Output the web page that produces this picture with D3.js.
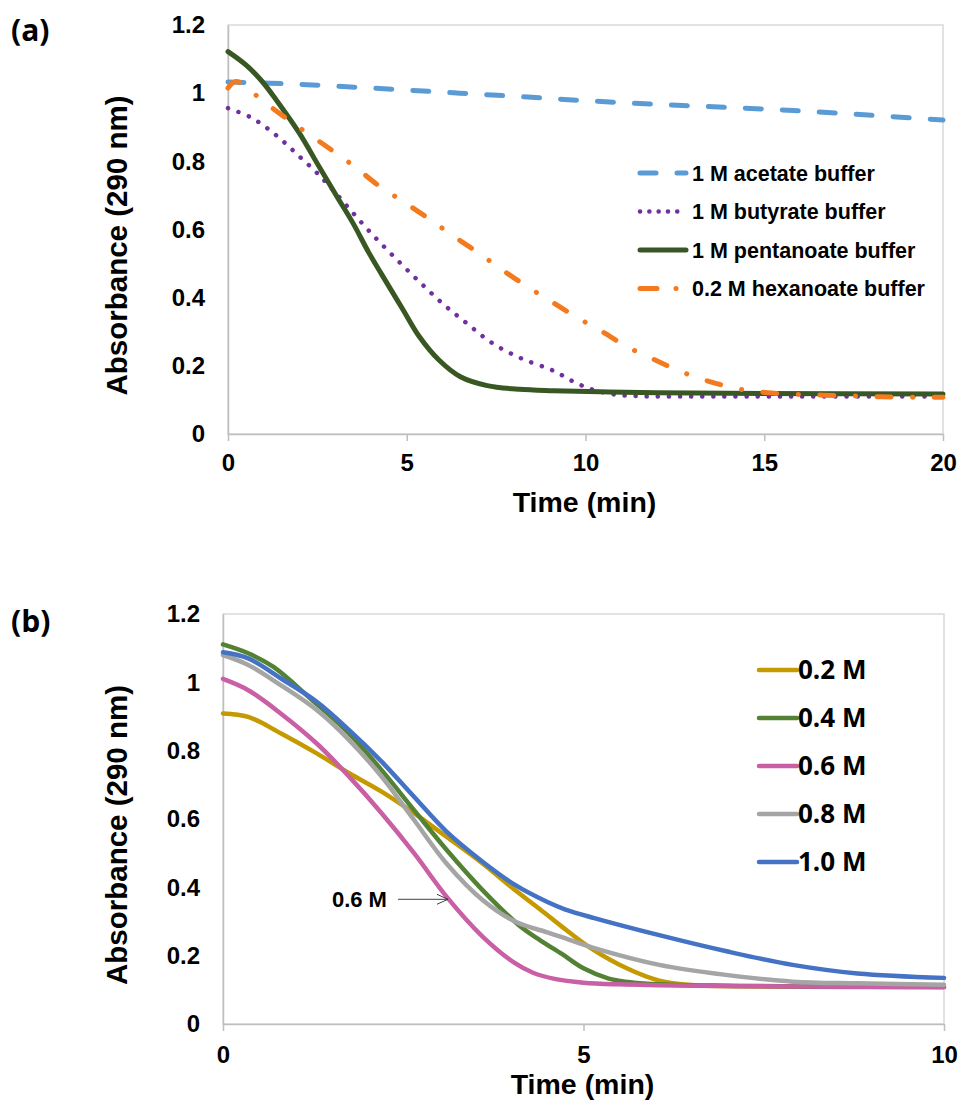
<!DOCTYPE html>
<meta charset="utf-8">
<style>
body { margin: 0; background: #fff; }
text { font-family: "Liberation Sans", Arial, sans-serif; font-weight: bold; fill: #000; }
.domain, .tick line { stroke: #bfbfbf; stroke-width: 1.5; }
.frame { fill: none; stroke: #d9d9d9; stroke-width: 1.5; }
.panel-tag, .legB text { font-family: "Open Sans", sans-serif; }
</style>
<body>
<script src="https://cdn.jsdelivr.net/npm/d3@7/dist/d3.min.js"></script>
<script>
// ---- data: [time (min), absorbance] ----
var acetate = [[0,1.033],[2,1.026],[4,1.015],[6,1.003],[8,0.991],[10,0.978],[12,0.967],[14,0.958],[16,0.948],[18,0.935],[20,0.921]];
var butyrate = [[0,0.956],[0.6,0.931],[1.1,0.897],[1.55,0.858],[2,0.814],[2.45,0.770],[2.85,0.726],[3.45,0.654],[4.05,0.584],[4.7,0.514],[5.35,0.447],[6,0.383],[6.7,0.323],[7.4,0.266],[8.2,0.222],[9.05,0.188],[9.35,0.172],[9.6,0.157],[9.9,0.142],[10.15,0.132],[10.8,0.116],[11.5,0.111],[13,0.110],[16,0.110],[20,0.110]];
var pentanoate = [[0,1.122],[0.5,1.083],[0.95,1.035],[1.35,0.98],[2,0.882],[2.55,0.784],[3.05,0.696],[3.5,0.618],[3.95,0.530],[4.45,0.442],[4.9,0.364],[5.35,0.286],[5.9,0.217],[6.5,0.168],[7.25,0.142],[8.15,0.131],[9.1,0.127],[10.4,0.124],[12,0.121],[15,0.119],[20,0.117]];
var hexanoate = [[0,1.015],[0.2,1.034],[0.45,1.025],[0.85,0.988],[1.5,0.936],[2.2,0.884],[2.9,0.833],[3.55,0.784],[4.2,0.730],[4.9,0.682],[5.6,0.633],[6.3,0.581],[7,0.532],[7.65,0.483],[8.35,0.434],[9.05,0.388],[9.75,0.343],[10.5,0.298],[11.2,0.254],[11.95,0.217],[12.7,0.182],[13.5,0.153],[14.3,0.132],[15.1,0.121],[16,0.116],[17,0.113],[18,0.110],[19,0.108],[20,0.108]];

var m02 = [[0,0.909],[0.35,0.899],[0.8,0.851],[1.3,0.792],[1.75,0.734],[2.2,0.680],[2.65,0.617],[3.1,0.548],[3.6,0.470],[4.05,0.392],[4.4,0.335],[4.7,0.285],[5.1,0.222],[5.6,0.163],[6.05,0.127],[6.5,0.114],[7.5,0.110],[10,0.108]];
var m04 = [[0,1.111],[0.35,1.085],[0.7,1.045],[1.2,0.955],[1.75,0.850],[2.2,0.743],[2.65,0.626],[3.1,0.510],[3.6,0.392],[4.1,0.290],[4.4,0.245],[4.7,0.205],[5.0,0.163],[5.35,0.133],[5.7,0.121],[6.2,0.115],[7,0.112],[8,0.110],[10,0.108]];
var m06 = [[0,1.010],[0.35,0.977],[0.8,0.909],[1.3,0.821],[1.75,0.724],[2.2,0.617],[2.65,0.500],[3.1,0.373],[3.6,0.256],[4.05,0.178],[4.3,0.150],[4.6,0.132],[5.0,0.121],[5.5,0.116],[6.5,0.112],[8,0.110],[10,0.108]];
var m08 = [[0,1.080],[0.35,1.051],[0.8,0.992],[1.3,0.919],[1.75,0.831],[2.2,0.724],[2.65,0.597],[3.1,0.470],[3.6,0.363],[4.05,0.300],[4.5,0.268],[4.7,0.254],[5.15,0.222],[6.05,0.173],[7,0.143],[7.9,0.124],[8.8,0.119],[10,0.115]];
var m10 = [[0,1.088],[0.35,1.070],[0.8,1.012],[1.3,0.943],[1.75,0.860],[2.2,0.768],[2.65,0.665],[3.1,0.563],[3.6,0.475],[4.05,0.407],[4.5,0.357],[4.75,0.335],[5.15,0.310],[6.05,0.260],[7,0.212],[7.9,0.173],[8.8,0.148],[10,0.135]];

var labelsA = ["1 M acetate buffer", "1 M butyrate buffer", "1 M pentanoate buffer", "0.2 M hexanoate buffer"];
var labelsB = ["0.2 M", "0.4 M", "0.6 M", "0.8 M", "1.0 M"];
var yTicks = [0, 0.2, 0.4, 0.6, 0.8, 1, 1.2];
var xTicksA = [0, 5, 10, 15, 20];
var xTicksB = [0, 5, 10];
var note = {label: "0.6 M", t: 3.12, v: 0.365};

var width = 959, height = 1102;

var svg = d3.select("body").append("svg")
    .attr("width", width)
    .attr("height", height);

var styleA = [
  {color: "#5b9bd5", w: 5, dash: "16,21", legDash: "16,21"},
  {color: "#7030a0", w: 4.5, dash: "0.1,11", legDash: "0.1,9.2"},
  {color: "#385723", w: 5, dash: null, legDash: null},
  {color: "#f37a1f", w: 5, dash: "14,21.5,0.1,21.5", legDash: "17,19,0.1,30"}
];
var styleB = ["#c49a00", "#548235", "#c95fa4", "#a5a5a5", "#4472c4"];

function panel(o) {
  var x = d3.scaleLinear().domain([0, o.xmax]).range([o.left, o.right]);
  var y = d3.scaleLinear().domain([0, 1.2]).range([o.bottom, o.top]);

  svg.append("rect").attr("class", "frame")
      .attr("x", o.left).attr("y", o.top)
      .attr("width", o.right - o.left).attr("height", o.bottom - o.top);

  svg.append("g")
      .attr("transform", "translate(0," + o.bottom + ")")
      .call(d3.axisBottom(x).tickValues(o.xTicks).tickSizeInner(7).tickSizeOuter(0).tickPadding(o.xPad))
      .call(function(g) { g.selectAll("text").style("font-size", "24px"); });

  svg.append("g")
      .attr("transform", "translate(" + o.left + ",0)")
      .call(d3.axisLeft(y).tickValues(yTicks).tickSize(0).tickPadding(23).tickFormat(d3.format("~g")))
      .call(function(g) { g.selectAll("text").style("font-size", "24px"); });

  svg.append("text")
      .attr("x", (o.left + o.right) / 2 - 1).attr("y", o.xTitleY)
      .attr("text-anchor", "middle")
      .style("font-size", "28.5px")
      .text("Time (min)");

  svg.append("text")
      .attr("transform", "translate(127," + ((o.top + o.bottom) / 2 + 16) + ") rotate(-90)")
      .attr("text-anchor", "middle")
      .style("font-size", "29.5px")
      .text("Absorbance (290 nm)");

  svg.append("text").attr("class", "panel-tag")
      .attr("x", 11).attr("y", o.tagY)
      .style("font-size", "30px")
      .text(o.tag);

  var line = d3.line()
      .curve(d3.curveCatmullRom.alpha(0.5))
      .x(function(d) { return x(d[0]); })
      .y(function(d) { return y(d[1]); });

  return {x: x, y: y, line: line};
}

// ---- (a) ----
var pa = panel({xmax: 20, left: 228, right: 943, top: 25, bottom: 434, xTicks: xTicksA,
                xPad: 13, xTitleY: 512, tagY: 41, tag: "(a)"});
var seriesA = [acetate, butyrate, pentanoate, hexanoate];

svg.append("g").selectAll("path")
    .data(seriesA)
  .enter().append("path")
    .attr("d", pa.line)
    .attr("fill", "none")
    .attr("stroke", function(d, i) { return styleA[i].color; })
    .attr("stroke-width", function(d, i) { return styleA[i].w; })
    .attr("stroke-linecap", "round")
    .attr("stroke-dasharray", function(d, i) { return styleA[i].dash; });

var legA = svg.append("g").selectAll("g")
    .data(labelsA)
  .enter().append("g")
    .attr("transform", function(d, i) { return "translate(0," + (173 + i * 38.5) + ")"; });

legA.append("line")
    .attr("x1", 640).attr("x2", 686)
    .attr("stroke", function(d, i) { return styleA[i].color; })
    .attr("stroke-width", function(d, i) { return styleA[i].w; })
    .attr("stroke-linecap", "round")
    .attr("stroke-dasharray", function(d, i) { return styleA[i].legDash; });

legA.append("text")
    .attr("x", 692).attr("dy", "0.35em")
    .style("font-size", "21.5px")
    .text(function(d) { return d; });

// ---- (b) ----
var pb = panel({xmax: 10, left: 223, right: 944, top: 614, bottom: 1024, xTicks: xTicksB,
                xPad: 15, xTitleY: 1094, tagY: 632, tag: "(b)"});
var seriesB = [m02, m04, m06, m08, m10];

svg.append("g").selectAll("path")
    .data(seriesB)
  .enter().append("path")
    .attr("d", pb.line)
    .attr("fill", "none")
    .attr("stroke", function(d, i) { return styleB[i]; })
    .attr("stroke-width", 4.5)
    .attr("stroke-linecap", "round");

var legB = svg.append("g").attr("class", "legB").selectAll("g")
    .data(labelsB)
  .enter().append("g")
    .attr("transform", function(d, i) { return "translate(0," + (670 + i * 48) + ")"; });

legB.append("line")
    .attr("x1", 759).attr("x2", 797)
    .attr("stroke", function(d, i) { return styleB[i]; })
    .attr("stroke-width", 4.5)
    .attr("stroke-linecap", "round");

legB.append("text")
    .attr("x", 798).attr("dy", "0.36em")
    .style("font-size", "26px")
    .text(function(d) { return d; });

// arrow annotation pointing at the 0.6 M curve
var tipX = pb.x(note.t), tipY = pb.y(note.v);
svg.append("line")
    .attr("x1", tipX - 50).attr("x2", tipX)
    .attr("y1", tipY).attr("y2", tipY)
    .attr("stroke", "#404040").attr("stroke-width", 1);
svg.append("path")
    .attr("d", "M" + (tipX - 11) + "," + (tipY - 5) + "L" + tipX + "," + tipY + "L" + (tipX - 11) + "," + (tipY + 5))
    .attr("fill", "none").attr("stroke", "#404040").attr("stroke-width", 1);
svg.append("text")
    .attr("x", tipX - 61).attr("y", tipY).attr("dy", "0.35em")
    .attr("text-anchor", "end")
    .style("font-size", "22px")
    .text(note.label);
</script>
